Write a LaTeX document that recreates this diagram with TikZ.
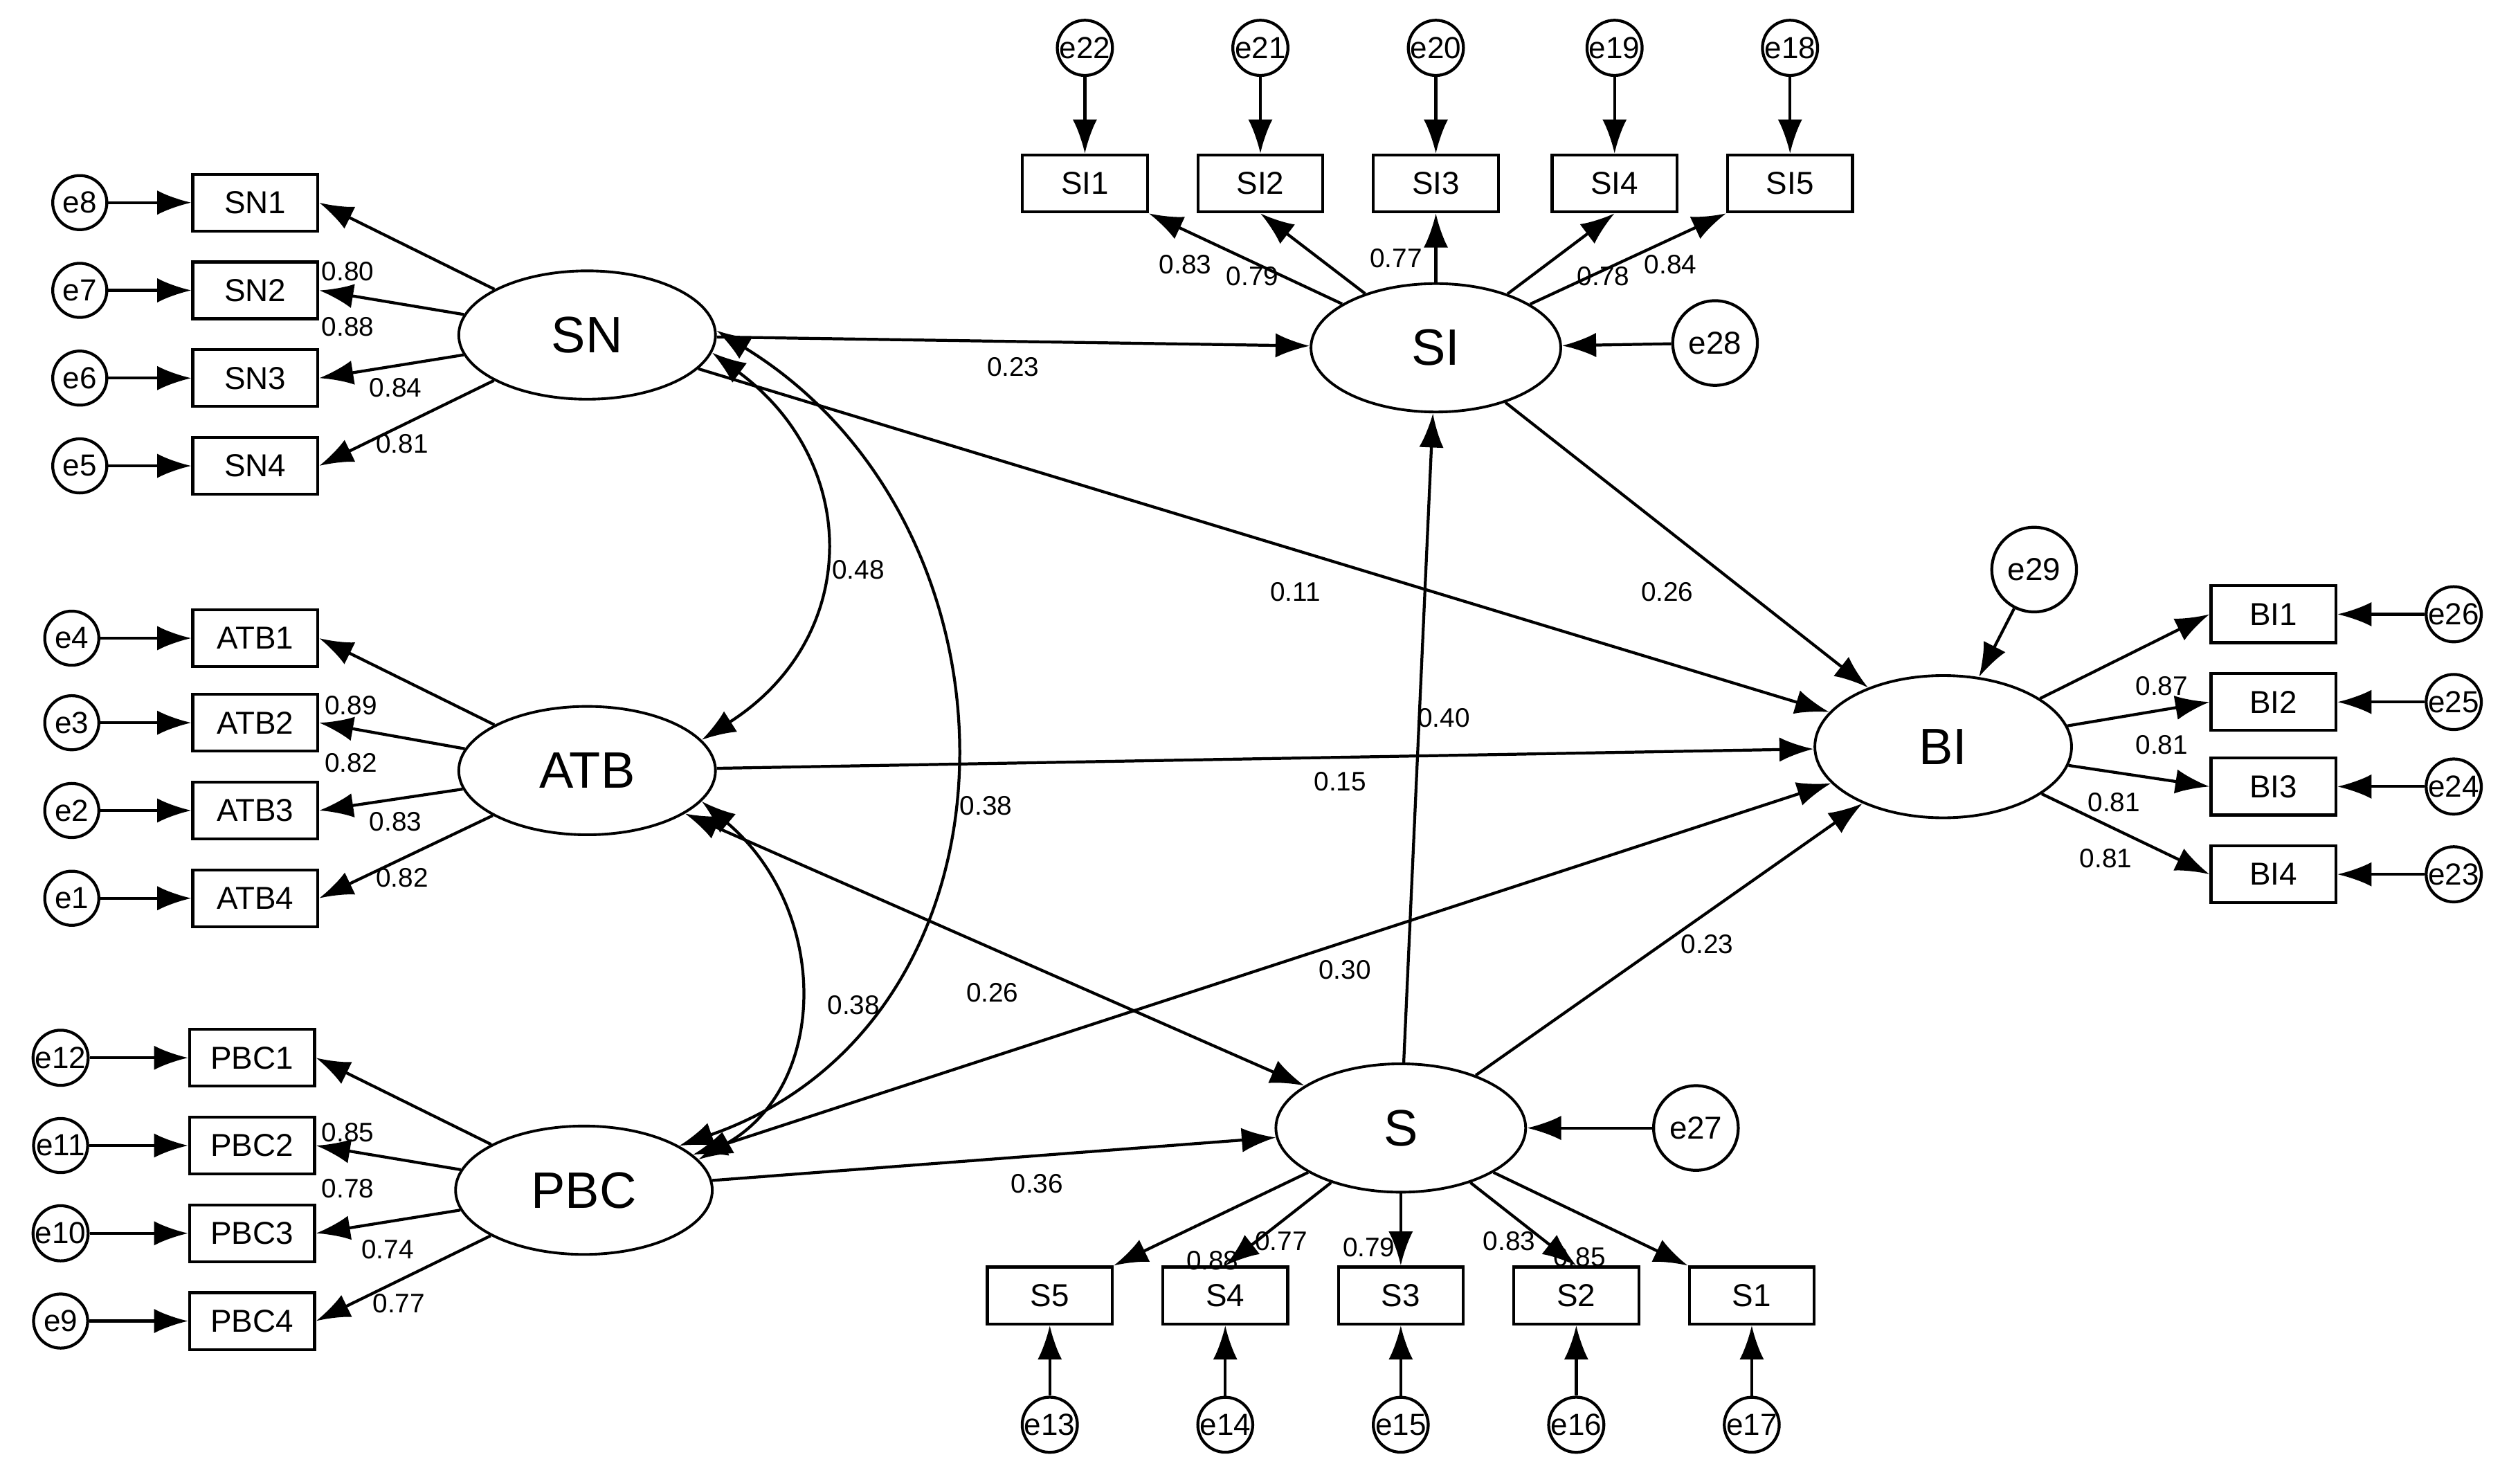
\documentclass[tikz,border=0pt]{standalone}
\usepackage{fontspec}
\setmainfont{Liberation Sans}
\usetikzlibrary{shapes.geometric,arrows.meta}
\begin{document}
\begin{tikzpicture}[x=0.023cm,y=-0.023cm,
  box/.style={draw,line width=1.2pt,minimum width=1.8cm,minimum height=0.82cm,inner sep=0pt,font=\fontsize{13}{13}\selectfont},
  lat/.style={draw,ellipse,line width=1.1pt,minimum width=3.7cm,minimum height=1.85cm,inner sep=0pt,font=\fontsize{21}{21}\selectfont},
  err/.style={draw,circle,line width=1.2pt,minimum size=0.78cm,inner sep=0pt,font=\fontsize{12.5}{12.5}\selectfont},
  bigerr/.style={draw,circle,line width=1.2pt,minimum size=1.22cm,inner sep=0pt,font=\fontsize{13}{13}\selectfont},
  ar/.style={line width=1.2pt,-{Latex[length=14pt,width=10pt]}},
  dar/.style={line width=1.2pt,{Latex[length=14pt,width=10pt]}-{Latex[length=14pt,width=10pt]}},
  lb/.style={font=\fontsize{11}{11}\selectfont,inner sep=0pt}]
\useasboundingbox (0,0) rectangle (1567,930);
% latent
\node[lat] (SN) at (368,210) {SN};
\node[lat] (ATB) at (368,483) {ATB};
\node[lat] (PBC) at (366,746) {PBC};
\node[lat,minimum width=3.6cm] (SI) at (900,218) {SI};
\node[lat,minimum height=2.05cm] (BI) at (1218,468) {BI};
\node[lat,minimum width=3.6cm] (S) at (878,707) {S};
% SN block
\foreach \i/\y/\e in {1/127/8,2/182/7,3/237/6,4/292/5}{
  \node[box] (SN\i) at (160,\y) {SN\i};
  \node[err] (e\e) at (50,\y) {e\e};
  \draw[ar] (e\e) -- (SN\i);
  \draw[ar] (SN) -- (SN\i.east);
}
\foreach \i/\y/\e in {1/400/4,2/453/3,3/508/2,4/563/1}{
  \node[box] (ATB\i) at (160,\y) {ATB\i};
  \node[err] (e\e) at (45,\y) {e\e};
  \draw[ar] (e\e) -- (ATB\i);
  \draw[ar] (ATB) -- (ATB\i.east);
}
\foreach \i/\y/\e in {1/663/12,2/718/11,3/773/10,4/828/9}{
  \node[box] (PBC\i) at (158,\y) {PBC\i};
  \node[err] (e\e) at (38,\y) {e\e};
  \draw[ar] (e\e) -- (PBC\i);
  \draw[ar] (PBC) -- (PBC\i.east);
}
\foreach \i/\x/\e in {1/680/22,2/790/21,3/900/20,4/1012/19,5/1122/18}{
  \node[box] (SI\i) at (\x,115) {SI\i};
  \node[err] (e\e) at (\x,30) {e\e};
  \draw[ar] (e\e) -- (SI\i);
}
\draw[ar] (SI) -- (SI1.south east);
\draw[ar] (SI) -- (SI2.south);
\draw[ar] (SI) -- (SI3.south);
\draw[ar] (SI) -- (SI4.south);
\draw[ar] (SI) -- (SI5.south west);
\foreach \i/\x/\e in {5/658/13,4/768/14,3/878/15,2/988/16,1/1098/17}{
  \node[box] (S\i) at (\x,812) {S\i};
  \node[err] (e\e) at (\x,893) {e\e};
  \draw[ar] (e\e) -- (S\i);
}
\draw[ar] (S) -- (S5.north east);
\draw[ar] (S) -- (S4.north);
\draw[ar] (S) -- (S3.north);
\draw[ar] (S) -- (S2.north);
\draw[ar] (S) -- (S1.north west);
\foreach \i/\y/\e in {1/385/26,2/440/25,3/493/24,4/548/23}{
  \node[box] (BI\i) at (1425,\y) {BI\i};
  \node[err] (e\e) at (1538,\y) {e\e};
  \draw[ar] (e\e) -- (BI\i);
  \draw[ar] (BI) -- (BI\i.west);
}
\node[bigerr] (e28) at (1075,215) {e28};
\node[bigerr] (e29) at (1275,357) {e29};
\node[bigerr] (e27) at (1063,707) {e27};
\draw[ar] (e28) -- (SI);
\draw[ar] (e29) -- (BI);
\draw[ar] (e27) -- (S);
% structural
\draw[ar] (SN) -- (SI);
\draw[ar] (SN) -- (BI);
\draw[ar] (SI) -- (BI);
\draw[ar] (S) -- (SI);
\draw[ar] (ATB) -- (BI);
\draw[ar] (PBC) -- (S);
\draw[ar] (S) -- (BI);
\draw[dar] (PBC) -- (BI);
\draw[dar] (ATB) -- (S);
% covariances
\draw[dar] (SN.-8) .. controls (540,290) and (540,400) .. (ATB.15);
\draw[dar] (ATB.-15) .. controls (520,570) and (520,680) .. (PBC.15);
\draw[dar] (SN.2) .. controls (650,330) and (650,640) .. (PBC.25);
% labels
\foreach \t/\x/\y in {0.80/218/170,0.88/218/205,0.84/248/243,0.81/252/278,
 0.89/220/442,0.82/220/478,0.83/248/515,0.82/252/550,
 0.85/218/710,0.78/218/745,0.74/243/783,0.77/250/817,
 0.83/743/166,0.79/785/173,0.77/875/162,0.78/1005/173,0.84/1047/166,
 0.88/760/790,0.77/803/778,0.79/858/782,0.83/946/778,0.85/990/788,
 0.87/1355/430,0.81/1355/467,0.81/1325/503,0.81/1320/538,
 0.23/635/230,0.11/812/371,0.26/1045/371,0.40/905/450,0.15/840/490,
 0.30/843/608,0.23/1070/592,0.36/650/742,0.48/538/357,0.38/535/630,
 0.38/618/505,0.26/622/622}
 \node[lb] at (\x,\y) {\t};
\end{tikzpicture}
\end{document}
